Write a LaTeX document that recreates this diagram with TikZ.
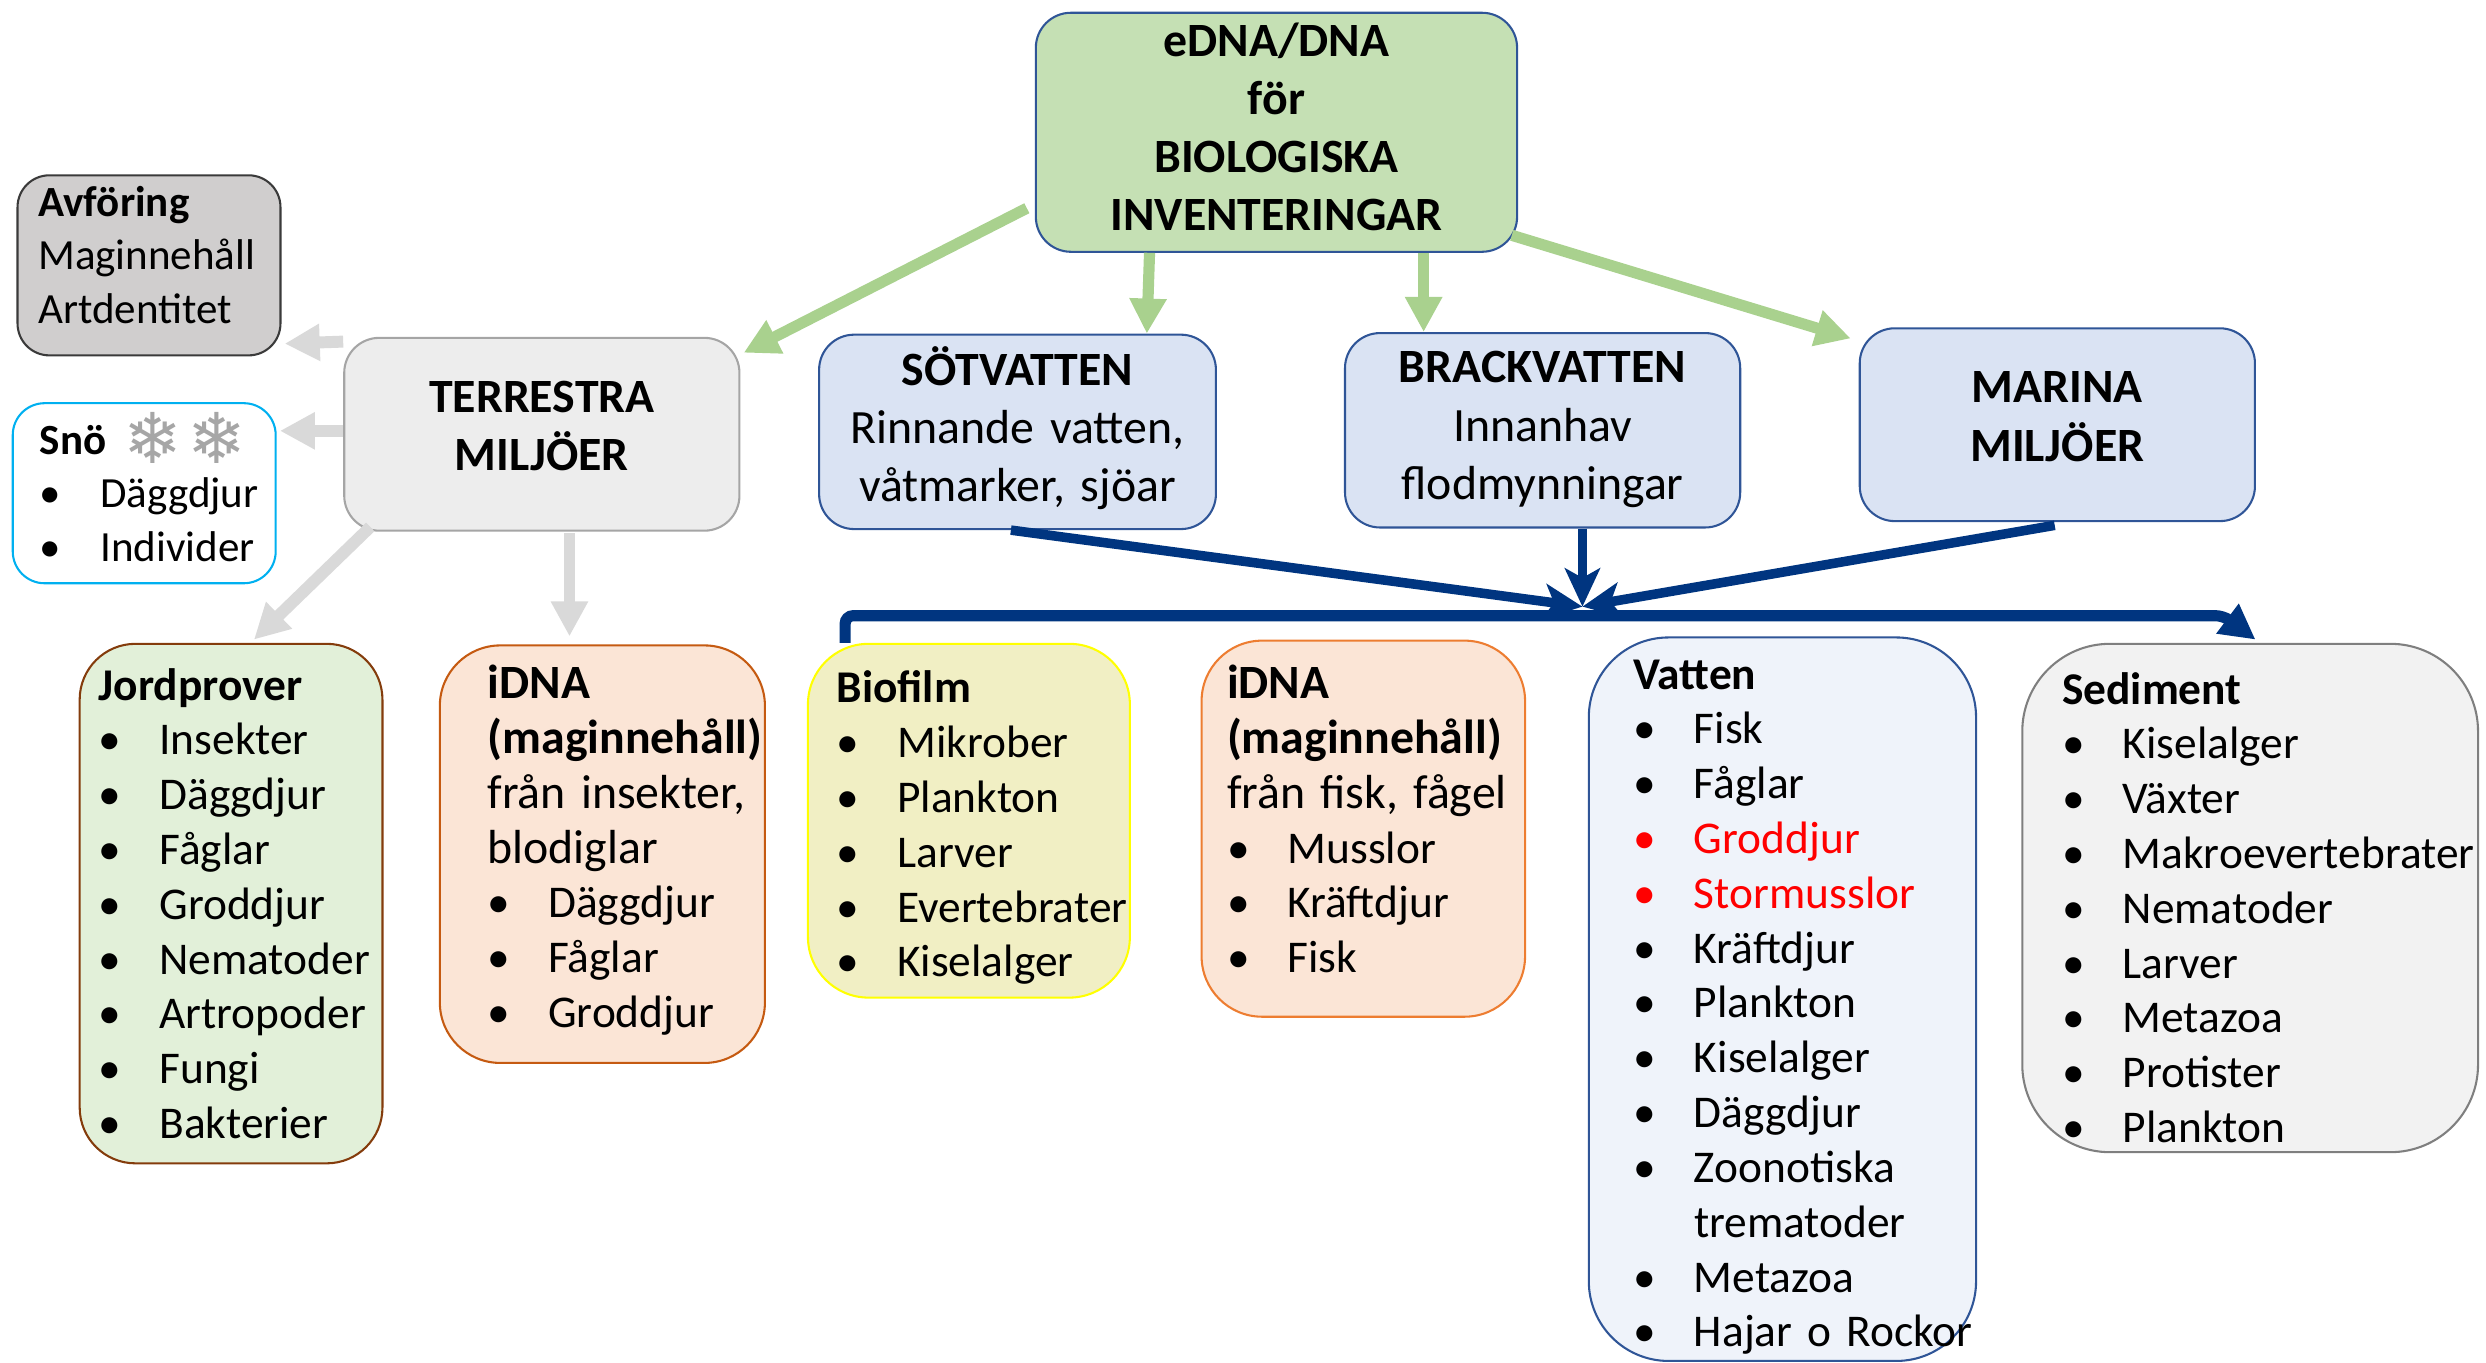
\documentclass[tikz,border=0pt]{standalone}
\usepackage{fontspec}
\setmainfont{Carlito}
\newfontfamily\flakefont{DejaVu Sans}
\usetikzlibrary{positioning, calc, arrows.meta}

\definecolor{topfill}{HTML}{C5E0B4}
\definecolor{envfill}{HTML}{DAE3F3}
\definecolor{envedge}{HTML}{2F5597}
\definecolor{terrfill}{HTML}{EDEDED}
\definecolor{terredge}{HTML}{A5A5A5}
\definecolor{avffill}{HTML}{D0CECE}
\definecolor{avfedge}{HTML}{3A3A3A}
\definecolor{snoedge}{HTML}{00B0F0}
\definecolor{jordfill}{HTML}{E2F0D9}
\definecolor{jordedge}{HTML}{843C0C}
\definecolor{idnafill}{HTML}{FBE5D6}
\definecolor{idnaedgeA}{HTML}{C55A11}
\definecolor{idnaedgeB}{HTML}{ED7D31}
\definecolor{biofill}{HTML}{F1EFC4}
\definecolor{bioedge}{HTML}{FFFF00}
\definecolor{vattenfill}{HTML}{EFF3FA}
\definecolor{sedfill}{HTML}{F2F2F2}
\definecolor{sededge}{HTML}{7F7F7F}
\definecolor{arrowgreen}{HTML}{A9D18E}
\definecolor{arrowgray}{HTML}{D9D9D9}
\definecolor{navy}{HTML}{003580}
\definecolor{flakegray}{HTML}{A6A6A6}

\newcommand{\bigsize}{\fontsize{30}{36.5}\selectfont}
\newcommand{\listsize}{\fontsize{28.5}{34.4}\selectfont}
\newcommand{\smallsize}{\fontsize{27}{33.5}\selectfont}
\newcommand{\itm}[1]{\mbox{\makebox[38pt][l]{\textbullet}#1}}
\newcommand{\txtline}[1]{\mbox{#1}}
% extra space under the text block moves it up (negative: down)
\newcommand{\lift}[1]{\par\vskip#1\hrule height0pt\relax}
\hyphenpenalty=10000

\begin{document}
\begin{tikzpicture}[x=1pt,y=-1pt,
  head/.style={draw, line width=1.3pt, rounded corners=22pt, align=center, inner xsep=5pt, inner ysep=0pt, font=\bigsize},
  list/.style={draw, line width=1.3pt, align=left, inner ysep=0pt, font=\listsize},
  greenline/.style={draw=arrowgreen, line width=7pt, -{Triangle[length=22pt,width=22pt]}},
  grayline/.style={draw=arrowgray, line width=7.5pt, -{Triangle[length=22pt,width=22pt]}},
  navyline/.style={draw=navy, line width=6pt, -{Stealth[length=24pt,width=22pt,inset=6pt]}},
  navybar/.style={draw=navy, line width=7pt, rounded corners=5pt, -{Triangle[length=22pt,width=22pt]}}]
\useasboundingbox (0,0) rectangle (1560,855);

% top row
\node[head, fill=topfill, draw=envedge, font=\bigsize\bfseries, text width=292pt, minimum width=302pt, minimum height=150pt] (top) at (801,83)
  {eDNA/DNA\\för\\BIOLOGISKA\\INVENTERINGAR\lift{7pt}};
\node[head, fill=terrfill, draw=terredge, font=\bigsize\bfseries, text width=238pt, minimum width=248pt, minimum height=121pt] (terr) at (340,272.5)
  {TERRESTRA\\MILJÖER\lift{10pt}};
\node[head, fill=envfill, draw=envedge, text width=239pt, minimum width=249pt, minimum height=122pt] (sot) at (638.5,271)
  {\textbf{SÖTVATTEN}\\Rinnande vatten,\\våtmarker, sjöar\lift{5pt}};
\node[head, fill=envfill, draw=envedge, text width=238pt, minimum width=248pt, minimum height=122pt] (brack) at (968,270)
  {\textbf{BRACKVATTEN}\\Innanhav\\flodmynningar\lift{1pt}};
\node[head, fill=envfill, draw=envedge, font=\bigsize\bfseries, text width=238pt, minimum width=248pt, minimum height=121pt] (marina) at (1291,266.5)
  {MARINA\\MILJÖER\lift{10pt}};

% side boxes
\node[list, fill=avffill, draw=avfedge, font=\smallsize, rounded corners=20pt, text width=139pt, inner xsep=13pt, minimum width=165pt, minimum height=113pt] (avf) at (93.5,166.5)
  {\textbf{Avföring}\\Maginnehåll\\Artdentitet\lift{13pt}};
\node[list, fill=white, draw=snoedge, font=\smallsize, rounded corners=20pt, text width=131pt, inner xsep=17pt, minimum width=165pt, minimum height=113pt] (sno) at (90.5,309.5)
  {\txtline{\textbf{Snö}\hspace{11pt}\raisebox{-6pt}[0pt][0pt]{\flakefont\fontsize{44}{44}\selectfont\color{flakegray}❄\hspace{3pt}❄}}\\
   \itm{Däggdjur}\\\itm{Individer}};

% bottom row
\node[list, fill=jordfill, draw=jordedge, rounded corners=35pt, text width=166pt, inner xsep=12pt, minimum width=190pt, minimum height=326pt] (jord) at (145,567)
  {\textbf{Jordprover}\\\itm{Insekter}\\\itm{Däggdjur}\\\itm{Fåglar}\\\itm{Groddjur}\\\itm{Nematoder}\\\itm{Artropoder}\\\itm{Fungi}\\\itm{Bakterier}};
\node[list, fill=idnafill, draw=idnaedgeA, rounded corners=38pt, text width=144pt, inner xsep=30pt, minimum width=204pt, minimum height=262pt] (idna1) at (378,536)
  {\txtline{\bigsize\textbf{iDNA}}\\\txtline{\bigsize\textbf{(maginnehåll)}}\\\txtline{\bigsize från insekter,}\\\txtline{\bigsize blodiglar}\\\itm{Däggdjur}\\\itm{Fåglar}\\\itm{Groddjur}\lift{5pt}};
\node[list, fill=biofill, draw=bioedge, rounded corners=38pt, text width=166pt, inner xsep=18pt, minimum width=202pt, minimum height=222pt] (bio) at (608,515)
  {\textbf{Biofilm}\\\itm{Mikrober}\\\itm{Plankton}\\\itm{Larver}\\\itm{Evertebrater}\\\itm{Kiselalger}\lift{-9pt}};
\node[list, fill=idnafill, draw=idnaedgeB, rounded corners=38pt, text width=171pt, inner xsep=16pt, minimum width=203pt, minimum height=236pt] (idna2) at (855.5,520)
  {\txtline{\bigsize\textbf{iDNA}}\\\txtline{\bigsize\textbf{(maginnehåll)}}\\\txtline{\bigsize från fisk, fågel}\\\itm{Musslor}\\\itm{Kräftdjur}\\\itm{Fisk}\lift{12pt}};
\node[list, fill=vattenfill, draw=envedge, rounded corners=50pt, text width=187pt, inner xsep=28pt, minimum width=243pt, minimum height=454pt] (vatten) at (1118.5,627)
  {\textbf{Vatten}\\\itm{Fisk}\\\itm{Fåglar}\\\textcolor{red}{\itm{Groddjur}}\\\textcolor{red}{\itm{Stormusslor}}\\\itm{Kräftdjur}\\\itm{Plankton}\\\itm{Kiselalger}\\\itm{Däggdjur}\\\itm{Zoonotiska}\\\txtline{\hspace{38pt}trematoder}\\\itm{Metazoa}\\\itm{Hajar o Rockor}\lift{-10pt}};
\node[list, fill=sedfill, draw=sededge, rounded corners=55pt, text width=236pt, inner xsep=25pt, minimum width=286pt, minimum height=319pt] (sed) at (1412,563.5)
  {\textbf{Sediment}\\\itm{Kiselalger}\\\itm{Växter}\\\itm{Makroevertebrater}\\\itm{Nematoder}\\\itm{Larver}\\\itm{Metazoa}\\\itm{Protister}\\\itm{Plankton}\lift{-12pt}};

% green arrows
\draw[greenline] ($(top.south west)+(-5,-28)$) -- ($(terr.north east)+(2,10)$);
\draw[greenline] ($(top.south west)+(72,0)$) -- ($(sot.north east)+(-44,0)$);
\draw[greenline] ($(top.south west)+(244,0)$) -- ($(brack.north west)+(50,0)$);
\draw[greenline] ($(top.south east)+(-4,-11)$) -- ($(marina.north west)+(-5,7)$);

% gray arrows
\draw[grayline] ($(terr.north west)+(0,3)$) -- ($(avf.south east)+(2,-8)$);
\draw[grayline] ($(terr.north west)+(0,59)$) -- ($(sno.north east)+(2,18)$);
\draw[grayline] ($(terr.south west)+(17,-3)$) -- ($(jord.north west)+(110,-2)$);
\draw[grayline] ($(terr.south west)+(142,1)$) -- ($(idna1.north west)+(82,-5)$);

% blue arrows
\coordinate (hub) at ($(brack.south)+(25,49)$);
\coordinate (barknee) at ($(sed.north west)+(127,-17)$);
\coordinate (bartip) at ($(sed.north west)+(147,-2)$);
\draw[navyline] ($(sot.south west)+(121,0)$) -- (hub);
\draw[navyline] ($(brack.south)+(25,0)$) -- (hub);
\draw[navyline] ($(marina.south west)+(123,2)$) -- (hub);
\draw[navybar] ($(bio.north west)+(24,0)$) -- ++(0,-17) -- (barknee) -- (bartip);
\end{tikzpicture}
\end{document}
